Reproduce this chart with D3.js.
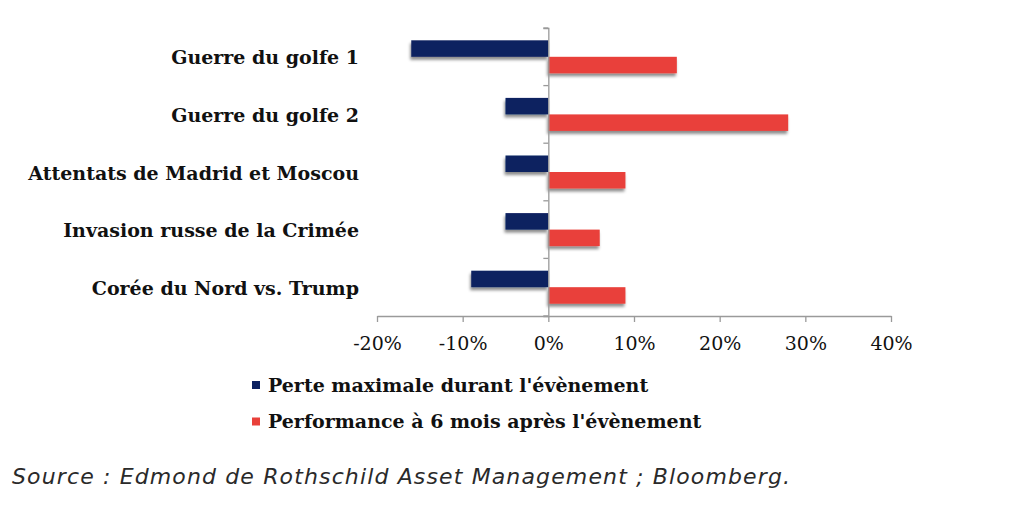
<!DOCTYPE html>
<html>
<head>
<meta charset="utf-8">
<script src="https://cdn.jsdelivr.net/npm/d3@7"></script>
<style>
  html, body { margin: 0; padding: 0; background: #fff; }
  svg { display: block; }
</style>
</head>
<body>
<svg id="chart" width="1024" height="513"></svg>
<script>
const categories = [
  "Guerre du golfe 1",
  "Guerre du golfe 2",
  "Attentats de Madrid et Moscou",
  "Invasion russe de la Crimée",
  "Corée du Nord vs. Trump"
];
const perteMax = [-16, -5, -5, -5, -9];
const perf6Mois = [15, 28, 9, 6, 9];
const seriesNames = ["Perte maximale durant l'évènement", "Performance à 6 mois après l'évènement"];
const seriesColors = ["#0b2160", "#e9403a"];
const xTicks = [-20, -10, 0, 10, 20, 30, 40];
const sourceText = "Source : Edmond de Rothschild Asset Management ; Bloomberg.";

const svg = d3.select("#chart");
const serif = "'DejaVu Serif', 'Liberation Serif', serif";

const defs = svg.append("defs");
const f = defs.append("filter").attr("id", "shadow")
  .attr("x", "-20%").attr("y", "-50%").attr("width", "140%").attr("height", "220%");
f.append("feGaussianBlur").attr("in", "SourceAlpha").attr("stdDeviation", 1.8).attr("result", "blur");
f.append("feOffset").attr("in", "blur").attr("dx", -1).attr("dy", 3).attr("result", "off");
f.append("feFlood").attr("flood-color", "#000").attr("flood-opacity", 0.45).attr("result", "col");
f.append("feComposite").attr("in", "col").attr("in2", "off").attr("operator", "in").attr("result", "sh");
const m = f.append("feMerge");
m.append("feMergeNode").attr("in", "sh");
m.append("feMergeNode").attr("in", "SourceGraphic");

const x = d3.scaleLinear().domain([-20, 40]).range([377, 891]);
const y = d3.scaleBand().domain(categories).range([28, 316]).paddingInner(0).paddingOuter(0);
const barH = 16.5;

// bars
const series = [perteMax, perf6Mois];
series.forEach((vals, si) => {
  svg.append("g").selectAll("rect")
    .data(vals)
    .join("rect")
    .attr("x", d => Math.min(x(0), x(d)))
    .attr("width", d => Math.abs(x(d) - x(0)))
    .attr("y", (d, i) => y(categories[i]) + y.bandwidth() / 2 - barH + si * barH)
    .attr("height", barH)
    .attr("fill", seriesColors[si])
    .attr("filter", "url(#shadow)");
});

// vertical category axis at zero
const yAxis = d3.axisLeft(y).tickSize(5).tickFormat("").tickSizeOuter(5);
const yG = svg.append("g").attr("transform", `translate(${x(0)},0)`).call(yAxis);
yG.selectAll(".tick").remove();
const bounds = categories.map(c => y(c)).concat([y.range()[1]]);
yG.selectAll("line.b").data(bounds).join("line")
  .attr("x1", -5).attr("x2", 0).attr("y1", d => d).attr("y2", d => d);
yG.selectAll("path, line").attr("stroke", "#9a9a9a").attr("stroke-width", 1.3);

// bottom axis
const xAxis = d3.axisBottom(x).tickValues(xTicks).tickSize(6).tickSizeOuter(0)
  .tickFormat(d => d + "%");
const xG = svg.append("g").attr("transform", `translate(0,${y.range()[1]})`).call(xAxis);
xG.selectAll("path, line").attr("stroke", "#9a9a9a").attr("stroke-width", 1.3);
xG.selectAll("text").attr("font-family", serif).attr("font-size", 19).attr("fill", "#111").attr("dy", "0.71em").attr("y", 21);

// category labels
svg.append("g").selectAll("text").data(categories).join("text")
  .attr("x", 359)
  .attr("y", d => y(d) + y.bandwidth() / 2 + 1)
  .attr("dy", "0.35em")
  .attr("text-anchor", "end")
  .attr("font-family", serif)
  .attr("font-weight", "bold")
  .attr("font-size", 19)
  .attr("fill", "#111")
  .text(d => d);

// legend
const legY = [385, 421.5];
const lg = svg.append("g");
seriesNames.forEach((n, i) => {
  lg.append("rect").attr("x", 252).attr("y", legY[i] - 4).attr("width", 8).attr("height", 8).attr("fill", seriesColors[i]);
  lg.append("text").attr("x", 268).attr("y", legY[i]).attr("dy", "0.35em")
    .attr("font-family", serif).attr("font-weight", "bold").attr("font-size", 19).attr("fill", "#111").text(n);
});

// source
svg.append("text").attr("x", 12).attr("y", 484)
  .attr("font-family", "'DejaVu Sans', sans-serif").attr("font-style", "italic").attr("font-weight", 200)
  .attr("font-size", 22).attr("fill", "#2a2a2a")
  .attr("textLength", 778).attr("lengthAdjust", "spacing")
  .text(sourceText);
</script>
</body>
</html>
